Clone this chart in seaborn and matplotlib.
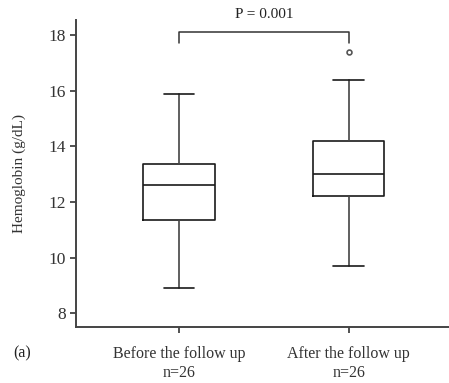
import matplotlib
matplotlib.use("Agg")
import matplotlib.pyplot as plt
import seaborn as sns

# ------------------------------
# Box summaries
# ------------------------------
groups = ["Before the follow up\nn=26", "After the follow up\nn=26"]
whisker_low = [8.9, 9.7]
q1 = [11.34, 12.22]
median = [12.62, 12.99]
q3 = [13.38, 14.19]
whisker_high = [15.9, 16.4]
outliers = [[], [17.4]]
p_text = "P = 0.001"

stats = []
for i in range(len(groups)):
    stats.append({
        "whislo": whisker_low[i], "q1": q1[i], "med": median[i],
        "q3": q3[i], "whishi": whisker_high[i], "fliers": outliers[i],
        "label": groups[i],
    })

# ------------------------------
# Plot
# ------------------------------
sns.set_style("ticks")
plt.rcParams["font.family"] = ["Liberation Serif", "DejaVu Serif"]

fig = plt.figure(figsize=(4.49, 3.83), dpi=100)
ax = fig.add_axes([76 / 449, 1 - 327 / 383, 373 / 449, 307 / 383])

line_c = "#1a1a1a"
ax.bxp(stats, positions=[0, 1], widths=0.42, capwidths=0.18,
       boxprops=dict(color=line_c, linewidth=1.2),
       medianprops=dict(color=line_c, linewidth=1.2),
       whiskerprops=dict(color="#444444", linewidth=1.2),
       capprops=dict(color=line_c, linewidth=1.2),
       flierprops=dict(marker="o", markersize=3.5, markerfacecolor="white",
                       markeredgecolor="#555555", markeredgewidth=1.2))

ax.set_xlim(-0.606, 1.59)
ax.set_ylim(7.5, 18.55)
ax.set_yticks([8, 10, 12, 14, 16, 18])
ax.set_ylabel("Hemoglobin (g/dL)", fontsize=11, color="#333333")
ax.yaxis.set_label_coords(-50 / 373, 0.5)
ax.tick_params(axis="both", colors="#333333", length=4, width=1.2)
ax.tick_params(axis="y", labelsize=12.5)
ax.tick_params(axis="x", labelsize=11.5, pad=10)

sns.despine(ax=ax)
for s in ["left", "bottom"]:
    ax.spines[s].set_color("#444444")
    ax.spines[s].set_linewidth(1.4)

# significance bracket
ax.plot([0, 0, 1, 1], [17.72, 18.12, 18.12, 17.72], color="#333333", lw=1.1,
        clip_on=False)
ax.text(0.5, 18.75, p_text, ha="center", va="center", fontsize=11,
        color="#222222")

fig.text(22 / 449, 1 - 353 / 383, "(a)", ha="center", va="center",
         fontsize=11.5, color="#222222")

fig.savefig("out.png", dpi=100)
